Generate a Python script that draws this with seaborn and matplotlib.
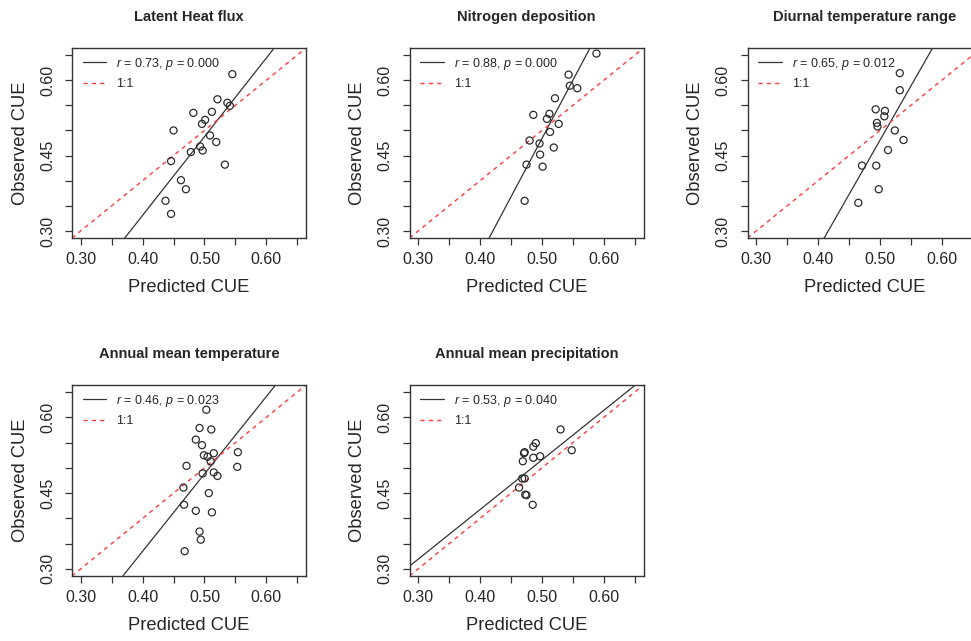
import numpy as np
import pandas as pd
import matplotlib
matplotlib.use('Agg')
import matplotlib.pyplot as plt
import seaborn as sns

# ---------------------------------------------------------
# 1. DATA
# ---------------------------------------------------------
titles = ['Latent Heat flux', 'Nitrogen deposition', 'Diurnal temperature range',
          'Annual mean temperature', 'Annual mean precipitation']
r_vals = ['0.73', '0.88', '0.65', '0.46', '0.53']
p_vals = ['0.000', '0.000', '0.012', '0.023', '0.040']

# fitted line of observed vs predicted (slope, intercept)
fit_slope = [1.566, 2.32, 2.159, 1.532, 0.9825]
fit_intercept = [-0.2954, -0.676, -0.599, -0.278, 0.0245]

lhf_pred = [0.545, 0.521, 0.537, 0.541, 0.482, 0.512, 0.501, 0.496, 0.450, 0.509,
            0.519, 0.493, 0.497, 0.478, 0.446, 0.533, 0.462, 0.470, 0.437, 0.446]
lhf_obs = [0.612, 0.562, 0.555, 0.549, 0.535, 0.537, 0.521, 0.513, 0.500, 0.490,
           0.477, 0.468, 0.460, 0.457, 0.439, 0.432, 0.401, 0.383, 0.360, 0.334]

ndep_pred = [0.588, 0.543, 0.545, 0.557, 0.521, 0.486, 0.512, 0.508, 0.527,
             0.513, 0.480, 0.496, 0.519, 0.497, 0.475, 0.501, 0.472]
ndep_obs = [0.653, 0.611, 0.589, 0.584, 0.564, 0.531, 0.533, 0.523, 0.513,
            0.497, 0.480, 0.474, 0.466, 0.452, 0.432, 0.428, 0.360]

dtr_pred = [0.532, 0.532, 0.493, 0.508, 0.507, 0.495, 0.496, 0.524, 0.538,
            0.513, 0.471, 0.494, 0.498, 0.465]
dtr_obs = [0.614, 0.580, 0.542, 0.539, 0.528, 0.515, 0.508, 0.500, 0.481,
           0.461, 0.430, 0.430, 0.383, 0.356]

tmp_pred = [0.503, 0.492, 0.511, 0.486, 0.496, 0.499, 0.505, 0.515, 0.510, 0.554,
            0.471, 0.553, 0.497, 0.515, 0.521, 0.466, 0.507, 0.467, 0.486, 0.512,
            0.492, 0.494, 0.468]
tmp_obs = [0.615, 0.579, 0.576, 0.556, 0.545, 0.525, 0.522, 0.529, 0.513, 0.531,
           0.504, 0.502, 0.489, 0.491, 0.484, 0.461, 0.450, 0.427, 0.415, 0.412,
           0.374, 0.358, 0.335]

pre_pred = [0.530, 0.548, 0.490, 0.486, 0.472, 0.471, 0.486, 0.497, 0.469,
            0.468, 0.472, 0.463, 0.473, 0.475, 0.485]
pre_obs = [0.576, 0.535, 0.549, 0.542, 0.531, 0.529, 0.520, 0.523, 0.513,
           0.479, 0.479, 0.461, 0.447, 0.446, 0.427]

predicted = [lhf_pred, ndep_pred, dtr_pred, tmp_pred, pre_pred]
observed = [lhf_obs, ndep_obs, dtr_obs, tmp_obs, pre_obs]

x_ticks = [0.30, 0.35, 0.40, 0.45, 0.50, 0.55, 0.60, 0.65]
x_labels = ['0.30', '', '0.40', '', '0.50', '', '0.60', '']
y_labels = ['0.30', '', '', '0.45', '', '', '0.60', '']
lims = (0.286, 0.664)

# ---------------------------------------------------------
# 2. STYLE
# ---------------------------------------------------------
sns.set_style('white')
plt.rcParams['font.family'] = ['Liberation Sans', 'DejaVu Sans']
plt.rcParams['mathtext.fontset'] = 'custom'
plt.rcParams['mathtext.rm'] = 'Liberation Sans'
plt.rcParams['mathtext.it'] = 'Liberation Sans:italic'

text_col = '#262626'
W, H = 971, 641
fig = plt.figure(figsize=(W / 100, H / 100), dpi=100)

# panel boxes in pixels: left, top, right, bottom
boxes = [(72, 48, 306, 238), (409.5, 48, 643.5, 238), (747.5, 48, 981.5, 238),
         (72, 385, 306, 576), (409.5, 385, 643.5, 576)]

# ---------------------------------------------------------
# 3. PANELS
# ---------------------------------------------------------
for i, (l, t, r, b) in enumerate(boxes):
    ax = fig.add_axes([l / W, 1 - b / H, (r - l) / W, (b - t) / H])
    df = pd.DataFrame({'pred': predicted[i], 'obs': observed[i]})

    sns.scatterplot(data=df, x='pred', y='obs', ax=ax, s=26,
                    facecolor='none', edgecolor='#2b2b2b', linewidth=0.9,
                    zorder=3)

    fit, = ax.plot([], [], color='#333333', lw=0.9)
    ax.axline((0, fit_intercept[i]), slope=fit_slope[i], color='#333333', lw=0.9)
    one, = ax.plot([], [], color='#ff3b3b', lw=1.0, ls=(0, (3, 3)))
    ax.axline((0, 0), slope=1, color='#ff3b3b', lw=1.0, ls=(0, (3, 3)))

    ax.set_xlim(lims)
    ax.set_ylim(lims)
    ax.set_xticks(x_ticks)
    ax.set_xticklabels(x_labels)
    ax.set_yticks(x_ticks)
    ax.set_yticklabels(y_labels, rotation=90, va='center')
    ax.tick_params(axis='both', direction='out', length=5, width=0.9,
                   color='#333333', labelsize=11.5, labelcolor=text_col, pad=5,
                   left=True, bottom=True)
    ax.tick_params(axis='y', pad=7)

    for sp in ax.spines.values():
        sp.set_color('#333333')
        sp.set_linewidth(1.0)

    ax.set_xlabel('Predicted CUE', fontsize=13.2, color=text_col, va='center')
    ax.xaxis.set_label_coords(0.5, -50 / (b - t))
    ax.set_ylabel('Observed CUE', fontsize=13.2, color=text_col, va='center')
    ax.yaxis.set_label_coords(-52 / (r - l), 0.5)

    ax.set_title(titles[i], fontsize=10.5, fontweight='bold', color=text_col,
                 y=1 + 23 / (b - t), va='center')

    ax.legend([fit, one],
              [r'$r$ = %s, $p$ = %s' % (r_vals[i], p_vals[i]), '1:1'],
              loc='upper left', bbox_to_anchor=(0, 1 + 3 / (b - t)),
              frameon=False, fontsize=9,
              handlelength=1.9, handletextpad=0.8, labelspacing=0.55,
              borderaxespad=0.45, labelcolor=text_col)

fig.savefig('out.png', dpi=100)
